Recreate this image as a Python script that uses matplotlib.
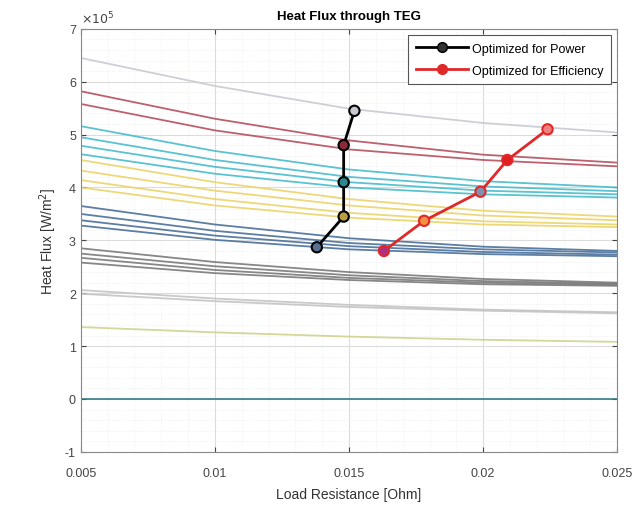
import numpy as np
import matplotlib
matplotlib.use('Agg')
import matplotlib.pyplot as plt
from matplotlib.ticker import MultipleLocator, FixedLocator, FuncFormatter
from matplotlib.lines import Line2D

plt.rcParams['font.family'] = ['Liberation Sans', 'DejaVu Sans']
plt.rcParams['axes.unicode_minus'] = False

# load resistance samples [Ohm]
R = [0.005, 0.01, 0.015, 0.02, 0.025]

# heat flux curves, in units of 1e5 W/m^2
gray_top = [6.45, 5.92, 5.49, 5.22, 5.04]
red_1 = [5.82, 5.30, 4.89, 4.62, 4.47]
red_2 = [5.58, 5.08, 4.72, 4.52, 4.40]
cyan_1 = [5.16, 4.69, 4.34, 4.12, 4.00]
cyan_2 = [4.95, 4.52, 4.20, 4.02, 3.93]
cyan_3 = [4.79, 4.39, 4.10, 3.94, 3.87]
cyan_4 = [4.63, 4.26, 4.00, 3.87, 3.81]
yellow_1 = [4.52, 4.10, 3.78, 3.56, 3.45]
yellow_2 = [4.32, 3.94, 3.66, 3.47, 3.38]
yellow_3 = [4.14, 3.78, 3.52, 3.36, 3.30]
yellow_4 = [4.00, 3.66, 3.43, 3.30, 3.25]
blue_1 = [3.65, 3.30, 3.04, 2.88, 2.80]
blue_2 = [3.50, 3.18, 2.95, 2.83, 2.77]
blue_3 = [3.38, 3.09, 2.89, 2.78, 2.73]
blue_4 = [3.28, 3.01, 2.83, 2.74, 2.70]
dgray_1 = [2.85, 2.59, 2.40, 2.27, 2.20]
dgray_2 = [2.75, 2.51, 2.34, 2.23, 2.18]
dgray_3 = [2.67, 2.44, 2.29, 2.20, 2.16]
dgray_4 = [2.58, 2.38, 2.25, 2.17, 2.14]
lgray_1 = [2.06, 1.90, 1.78, 1.69, 1.64]
lgray_2 = [1.99, 1.85, 1.74, 1.67, 1.62]
olive = [1.36, 1.26, 1.18, 1.12, 1.08]
zero = [0, 0, 0, 0, 0]

# optimum points
pow_R = [0.0152, 0.0148, 0.0148, 0.0148, 0.0138]
pow_q = [5.45, 4.80, 4.10, 3.45, 2.87]
eff_R = [0.0224, 0.0209, 0.0199, 0.0178, 0.0163]
eff_q = [5.10, 4.52, 3.92, 3.37, 2.80]

curves = [(gray_top, '#c9c9d3'), (red_1, '#b5505e'), (red_2, '#b5505e'),
          (cyan_1, '#48bccb'), (cyan_2, '#48bccb'), (cyan_3, '#48bccb'), (cyan_4, '#48bccb'),
          (yellow_1, '#ecd46a'), (yellow_2, '#ecd46a'), (yellow_3, '#ecd46a'), (yellow_4, '#ecd46a'),
          (blue_1, '#4a709a'), (blue_2, '#4a709a'), (blue_3, '#4a709a'), (blue_4, '#4a709a'),
          (dgray_1, '#7a7a7a'), (dgray_2, '#7a7a7a'), (dgray_3, '#7a7a7a'), (dgray_4, '#7a7a7a'),
          (lgray_1, '#c4c4c4'), (lgray_2, '#c4c4c4'), (olive, '#cdd48a'), (zero, '#2f7c84')]

pow_faces = ['#c9c9d3', '#8a2a3a', '#2a8a90', '#b8a040', '#5a7090']
eff_faces = ['#f08080', '#e02020', '#8090b0', '#f09040', '#b03080']

fig = plt.figure(figsize=(6.41, 5.06), dpi=100)
ax = fig.add_axes([0.126, 0.105, 0.837, 0.836])

for y, c in curves:
    ax.plot(R, np.array(y) * 1e5, color=c, lw=1.3, alpha=0.9)

ax.plot(pow_R, np.array(pow_q) * 1e5, '-', color='black', lw=2, zorder=5)
ax.scatter(pow_R, np.array(pow_q) * 1e5, s=55, c=pow_faces, edgecolors='black',
           linewidths=1.5, zorder=6)
ax.plot(eff_R, np.array(eff_q) * 1e5, '-', color='#e02828', lw=2, zorder=5)
ax.scatter(eff_R, np.array(eff_q) * 1e5, s=55, c=eff_faces, edgecolors='#e02828',
           linewidths=1.5, zorder=6)

h = [Line2D([], [], color='black', lw=2, marker='o', ms=7, mfc='#333333', mec='black'),
     Line2D([], [], color='#e02828', lw=2, marker='o', ms=7, mfc='#e02828', mec='#e02828')]
leg = ax.legend(h, ['Optimized for Power', 'Optimized for Efficiency'], loc='upper right',
                fontsize=9, fancybox=False, edgecolor='#555555', framealpha=1,
                borderaxespad=0.5, handlelength=4.2, labelspacing=0.8, borderpad=0.6,
                handletextpad=0.3)
leg.get_frame().set_linewidth(0.8)

ax.set_xlim(0.005, 0.025)
ax.set_ylim(-1e5, 7e5)
ax.xaxis.set_major_locator(FixedLocator([0.005, 0.01, 0.015, 0.02, 0.025]))
ax.xaxis.set_major_formatter(FuncFormatter(lambda v, p: '%g' % round(v, 4)))
ax.xaxis.set_minor_locator(MultipleLocator(0.001))
ax.yaxis.set_major_locator(MultipleLocator(1e5))
ax.yaxis.set_major_formatter(FuncFormatter(lambda v, p: '%d' % round(v / 1e5)))
ax.yaxis.set_minor_locator(MultipleLocator(0.2e5))
ax.text(0.0, 1.006, r'$\times10^{5}$', transform=ax.transAxes, fontsize=9,
        color='#444444', ha='left', va='bottom')

ax.grid(True, which='major', color='#dcdcdc', lw=0.8)
ax.grid(True, which='minor', color='#ececec', lw=0.6, ls=':')
ax.set_axisbelow(True)
ax.tick_params(which='both', direction='in', top=True, right=True, labelsize=9,
               colors='#444444')
ax.tick_params(axis='x', pad=11)
ax.tick_params(which='minor', length=0)
for s in ax.spines.values():
    s.set_color('#888888')

ax.set_title('Heat Flux through TEG', fontsize=9.5, fontweight='bold', pad=7)
ax.set_xlabel('Load Resistance [Ohm]', fontsize=10, color='#333333', labelpad=6)
ax.set_ylabel('Heat Flux [W/m$^2$]', fontsize=10, color='#333333')

plt.savefig('out.png', dpi=100)
